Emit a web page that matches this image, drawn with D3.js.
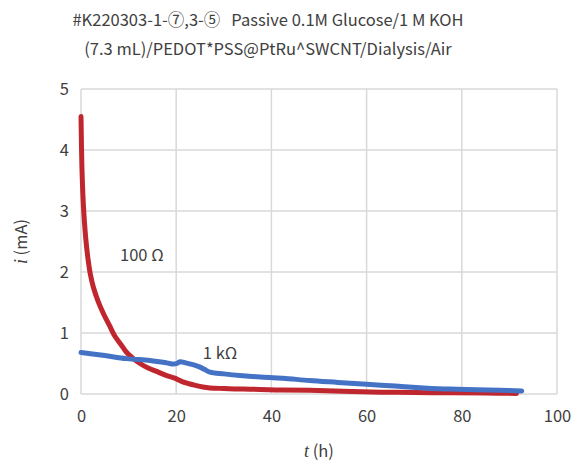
<!DOCTYPE html>
<html><head><meta charset="utf-8">
<script src="https://cdn.jsdelivr.net/npm/d3@7"></script>
<style>
body{margin:0;background:#fff;}
text{font-family:"Noto Sans CJK JP","Noto Sans",sans-serif;fill:#404040;}
</style></head>
<body><svg id="c" width="573" height="464"></svg>
<script>
const titleLines = ["#K220303-1-⑦,3-⑤\u00a0\u00a0\u00a0Passive 0.1M Glucose/1 M KOH", "(7.3 mL)/PEDOT*PSS@PtRu^SWCNT/Dialysis/Air"];
const xTicks = [0, 20, 40, 60, 80, 100];
const yTicks = [0, 1, 2, 3, 4, 5];
const redT = [0,0.2,0.5,1,1.5,2,2.6,3.6,4.7,6,7.1,8.5,9.6,11,12.4,14,15.9,18,19.7,21.4,23.6,25.6,27.1,30,34,37.6,42,48,55,63,70,78,85,91.5];
const redI = [4.55,3.7,3.1,2.55,2.2,1.95,1.75,1.52,1.32,1.12,0.95,0.8,0.68,0.58,0.5,0.43,0.37,0.3,0.26,0.2,0.15,0.115,0.1,0.09,0.08,0.075,0.065,0.06,0.045,0.03,0.025,0.02,0.015,0.01];
const blueT = [0,2,5,9.6,14.5,18,19.4,20.1,20.8,22,23.5,24.3,25,26,27.1,30,34,37.6,42.4,48,54,60,66,72,77.5,83,88,92.6];
const blueI = [0.68,0.66,0.63,0.58,0.55,0.51,0.49,0.5,0.53,0.51,0.48,0.46,0.44,0.4,0.36,0.33,0.3,0.28,0.26,0.22,0.19,0.16,0.13,0.1,0.08,0.07,0.06,0.05];
const labels = [{t:"100 Ω", x:8.2, y:2.25}, {t:"1 kΩ", x:25.6, y:0.65}];

const svg = d3.select("#c");
const L=81, R=557, T=89, B=394;
const x = d3.scaleLinear().domain([0,100]).range([L,R]);
const y = d3.scaleLinear().domain([0,5]).range([B,T]);

// title
svg.selectAll(".title").data(titleLines).enter().append("text")
  .attr("x", 268).attr("y",(d,i)=>26+i*29).attr("text-anchor","middle")
  .style("font-size","16.5px").text(d=>d);

// grid
svg.append("g").selectAll("line").data(xTicks).enter().append("line")
  .attr("x1",d=>x(d)).attr("x2",d=>x(d)).attr("y1",T).attr("y2",B)
  .attr("stroke","#d9d9d9").attr("stroke-width",1.5);
svg.append("g").selectAll("line").data(yTicks).enter().append("line")
  .attr("y1",d=>y(d)).attr("y2",d=>y(d)).attr("x1",L).attr("x2",R)
  .attr("stroke","#d9d9d9").attr("stroke-width",1.5);

// axes
const xa = svg.append("g").attr("transform",`translate(0,${B})`)
  .call(d3.axisBottom(x).tickValues(xTicks).tickFormat(d3.format("d")).tickSize(0).tickPadding(16));
const ya = svg.append("g").attr("transform",`translate(${L},0)`)
  .call(d3.axisLeft(y).tickValues(yTicks).tickFormat(d3.format("d")).tickSize(0).tickPadding(12));
[xa,ya].forEach(a=>{a.select(".domain").remove(); a.selectAll("text").style("font-size","16.5px").attr("fill","#404040").style("font-family",'"Noto Sans CJK JP","Noto Sans",sans-serif');});

// lines
const line = d3.line().x(d=>x(d[0])).y(d=>y(d[1])).curve(d3.curveCatmullRom.alpha(0.5));
svg.append("path").datum(redT.map((t,i)=>[t,redI[i]])).attr("d",line)
  .attr("fill","none").attr("stroke","#C0262D").attr("stroke-width",5).attr("stroke-linecap","round").attr("stroke-linejoin","round");
svg.append("path").datum(blueT.map((t,i)=>[t,blueI[i]])).attr("d",line)
  .attr("fill","none").attr("stroke","#4472C4").attr("stroke-width",5).attr("stroke-linecap","round").attr("stroke-linejoin","round");

// labels
svg.selectAll(".lab").data(labels).enter().append("text")
  .attr("x",d=>x(d.x)).attr("y",d=>y(d.y)).style("font-size","16.5px").attr("dominant-baseline","middle").text(d=>d.t);

// axis titles
const xt = svg.append("text").attr("x",(L+R)/2).attr("y",457).attr("text-anchor","middle").style("font-size","16.5px");
xt.append("tspan").attr("font-style","italic").style("font-family","'Liberation Serif',serif").style("font-size","18px").text("t");
xt.append("tspan").text(" (h)");
const yt = svg.append("text").attr("transform",`translate(27,${(T+B)/2}) rotate(-90)`).attr("text-anchor","middle").style("font-size","16.5px");
yt.append("tspan").attr("font-style","italic").style("font-family","'Liberation Serif',serif").style("font-size","18px").text("i");
yt.append("tspan").text(" (mA)");
</script></body></html>
